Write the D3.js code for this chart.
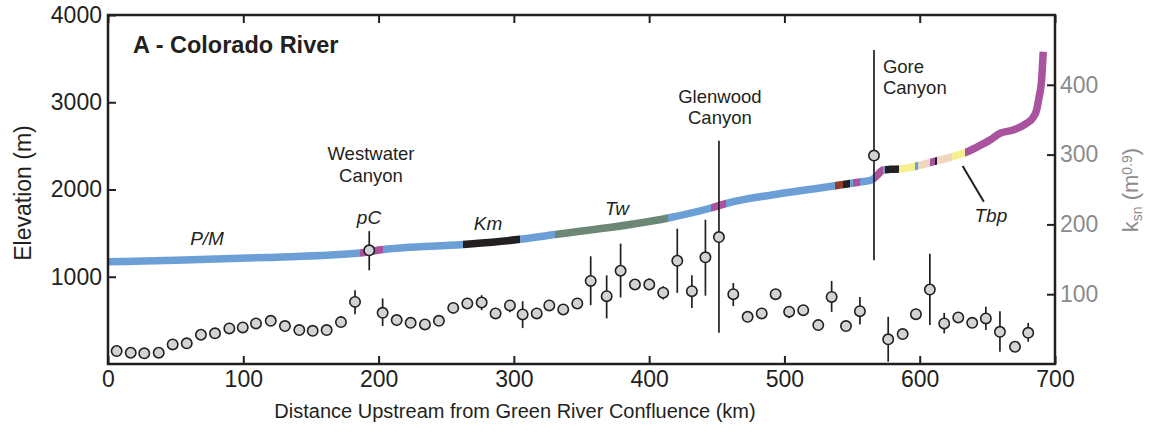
<!DOCTYPE html>
<html>
<head>
<meta charset="utf-8">
<script src="https://cdn.jsdelivr.net/npm/d3@7"></script>
<style>
  body { margin: 0; background: #fff; }
  svg { display: block; font-family: "Liberation Sans", Arial, Helvetica, sans-serif; }
</style>
</head>
<body>
<div id="chart"></div>
<script>
// river long profile (km upstream, elevation m)
const profKm = [0, 50, 117.3, 186.3, 203.5, 262.6, 304.5, 330.4, 414.1, 445.7, 457.3, 491.7, 511.5, 538.6, 555.8, 564.4, 568.1, 573.0, 578.0, 585.4, 597.7, 610.0, 622.3, 632.2, 642.0, 651.9, 659.3, 669.1, 679.0, 683.9, 686.4, 688.3, 690.1, 691.3];
const profElev = [1172, 1190, 1221, 1272, 1312, 1370, 1429, 1484, 1673, 1788, 1842, 1940, 1985, 2046, 2086, 2109, 2155, 2223, 2231, 2235, 2269, 2319, 2367, 2415, 2484, 2567, 2644, 2682, 2759, 2827, 2911, 3064, 3255, 3579];

// rock units along the profile
const unitStart = [0, 186.3, 203.5, 262.6, 304.5, 330.4, 414.1, 445.7, 456.5, 537.3, 543, 548.4, 550.4, 555.8, 565.2, 572.6, 574.3, 584.8, 596.8, 598.7, 607.5, 611.2, 612.5, 623.6, 633.4];
const unitEnd   = [186.3, 203.5, 262.6, 304.5, 330.4, 414.1, 445.7, 456.5, 537.3, 543, 548.4, 550.4, 555.8, 565.2, 572.6, 574.3, 584.8, 596.8, 598.7, 607.5, 611.2, 612.5, 623.6, 633.4, 700];
const unitType  = ["PM", "pC", "PM", "Km", "PM", "Tw", "PM", "pC", "PM", "red", "Km", "PM", "pC", "PM", "pC", "PM", "Km", "Tbp", "PM", "peach", "pC", "Km", "peach", "Tbp", "pC"];
const unitColor = { PM: "#6c9fd5", pC: "#a9539f", Km: "#231f20", Tw: "#6d8777", red: "#8e3b30", Tbp: "#f5ef8f", peach: "#eed6c0" };

// ksn points
const ptKm = [6.4, 16.8, 26.8, 37.5, 47.8, 58.2, 68.7, 79.1, 89.7, 99.6,
  109.4, 120.3, 130.8, 141.4, 151.3, 161.6, 172.2, 182.6, 193.1, 203.0,
  213.4, 223.7, 234.3, 244.6, 255.2, 265.6, 276.2, 286.5, 297.1, 306.5,
  316.9, 326.2, 336.5, 346.9, 356.8, 368.6, 378.9, 389.5, 400.1, 410.4,
  420.8, 431.6, 441.6, 451.6, 462.2, 472.8, 483.2, 493.5, 503.5, 513.9,
  525.0, 534.9, 545.5, 555.8, 566.2, 576.7, 587.4, 597.2, 607.5, 618.1,
  628.5, 638.8, 648.9, 659.3, 670.4, 680.2];
const ptKsn = [18.6, 16.1, 15.3, 16.1, 28.1, 29.6, 41.9, 43.9, 51.0, 52.4,
  58.1, 61.9, 54.3, 48.6, 47.6, 48.6, 60.0, 89.0, 162.9, 73.3,
  62.9, 59.0, 56.7, 61.9, 80.4, 86.7, 88.1, 72.4, 83.9, 71.0,
  72.4, 83.9, 78.1, 86.7, 119.0, 97.1, 133.6, 113.9, 113.9, 102.1,
  147.9, 104.3, 152.9, 181.9, 100.0, 67.6, 72.4, 100.0, 75.0, 77.1,
  55.7, 96.1, 54.3, 75.7, 298.6, 35.3, 42.9, 71.4, 106.7, 58.1,
  66.7, 59.0, 65.3, 46.1, 24.7, 44.7];

// error bars
const errKm = [182.6, 193.1, 203.0, 213.4, 276.2, 297.1, 306.5, 356.8, 368.6, 378.9, 400.1, 410.4, 420.8, 431.6, 441.6, 451.6, 462.2, 503.5, 534.9, 555.8, 566.2, 576.7, 607.5, 618.1, 648.9, 659.3, 680.2];
const errLo = [71.4, 134.3, 54.3, 54.3, 77.1, 74.3, 51.4, 84.3, 65.3, 95.3, 105.7, 92.4, 101.9, 80.4, 97.9, 44.7, 82.9, 65.7, 74.7, 56.7, 148.6, 3.3, 55.7, 43.9, 48.6, 17.6, 31.9];
const errHi = [105.7, 190.4, 93.9, 70.0, 98.6, 91.4, 90.0, 154.3, 127.1, 172.4, 122.9, 111.4, 193.9, 127.1, 206.7, 320.0, 116.1, 81.9, 119.0, 96.1, 450.0, 67.6, 158.1, 73.3, 81.9, 75.7, 58.9];

const xTicks = [0, 100, 200, 300, 400, 500, 600, 700];
const elevTicks = [1000, 2000, 3000, 4000];
const ksnTicks = [100, 200, 300, 400];

const ink = "#231f20";
const grey = "#8a8b8d";

const W = 1155, H = 435;
const margin = { top: 15, right: 100, bottom: 71, left: 108 };
const width = W - margin.left - margin.right;
const height = H - margin.top - margin.bottom;

const svg = d3.select("#chart").append("svg")
  .attr("width", W)
  .attr("height", H);

const g = svg.append("g")
  .attr("transform", `translate(${margin.left},${margin.top})`);

const x = d3.scaleLinear().domain([0, 700]).range([0, width]);
const yE = d3.scaleLinear().domain([0, 4000]).range([height, 0]);
const yK = d3.scaleLinear().domain([0, 500]).range([height, 0]);

// gradient with hard stops for the rock units
const grad = svg.append("defs").append("linearGradient")
  .attr("id", "units")
  .attr("gradientUnits", "userSpaceOnUse")
  .attr("x1", x(0)).attr("x2", x(700))
  .attr("y1", 0).attr("y2", 0);
unitStart.forEach((s, i) => {
  const c = unitColor[unitType[i]];
  grad.append("stop").attr("offset", s / 700).attr("stop-color", c);
  grad.append("stop").attr("offset", unitEnd[i] / 700).attr("stop-color", c);
});

const line = d3.line()
  .x(d => x(d[0]))
  .y(d => yE(d[1]))
  .curve(d3.curveMonotoneX);

g.append("path")
  .datum(profKm.map((k, i) => [k, profElev[i]]))
  .attr("d", line)
  .attr("fill", "none")
  .attr("stroke", "url(#units)")
  .attr("stroke-width", 7.5);

// error bars
g.append("g").selectAll("line")
  .data(errKm)
  .join("line")
  .attr("x1", d => x(d)).attr("x2", d => x(d))
  .attr("y1", (d, i) => yK(errLo[i]))
  .attr("y2", (d, i) => yK(errHi[i]))
  .attr("stroke", ink)
  .attr("stroke-width", 1.7);

// ksn points
g.append("g").selectAll("circle")
  .data(ptKm)
  .join("circle")
  .attr("cx", d => x(d))
  .attr("cy", (d, i) => yK(ptKsn[i]))
  .attr("r", 5.2)
  .attr("fill", "#d1d3d4")
  .attr("stroke", ink)
  .attr("stroke-width", 1.6);

// frame + axes
g.append("rect")
  .attr("width", width).attr("height", height)
  .attr("fill", "none")
  .attr("stroke", ink)
  .attr("stroke-width", 2.5);

function style(sel, color) {
  sel.select(".domain").remove();
  sel.selectAll(".tick line").attr("stroke", ink).attr("stroke-width", 2);
  sel.selectAll(".tick text")
    .attr("fill", color)
    .style("font-size", "23px")
    .style("font-family", "Liberation Sans, Arial, sans-serif");
}

const fmt = d3.format("d");

g.append("g")
  .attr("transform", `translate(0,${height})`)
  .call(d3.axisBottom(x).tickValues(xTicks).tickFormat(fmt).tickSizeInner(-8).tickSizeOuter(0).tickPadding(7))
  .call(s => style(s, ink));

g.append("g")
  .call(d3.axisTop(x).tickValues(xTicks).tickFormat("").tickSizeInner(-8).tickSizeOuter(0))
  .call(s => style(s, ink));

g.append("g")
  .call(d3.axisLeft(yE).tickValues(elevTicks).tickFormat(fmt).tickSizeInner(-8).tickSizeOuter(0).tickPadding(6))
  .call(s => style(s, ink));

g.append("g")
  .attr("transform", `translate(${width},0)`)
  .call(d3.axisRight(yK).tickValues(ksnTicks).tickFormat(fmt).tickSizeInner(-8).tickSizeOuter(0).tickPadding(5))
  .call(s => style(s, grey));

// axis titles
svg.append("text")
  .attr("transform", `translate(31,193) rotate(-90)`)
  .attr("text-anchor", "middle")
  .attr("fill", ink)
  .style("font-size", "23px")
  .text("Elevation (m)");

svg.append("text")
  .attr("x", 515).attr("y", 418)
  .attr("text-anchor", "middle")
  .attr("fill", ink)
  .style("font-size", "20px")
  .text("Distance Upstream from Green River Confluence (km)");

const kt = svg.append("text")
  .attr("transform", `translate(1138,190) rotate(-90)`)
  .attr("text-anchor", "middle")
  .attr("fill", grey)
  .style("font-size", "22px");
kt.append("tspan").text("k");
kt.append("tspan").attr("baseline-shift", "-30%").style("font-size", "14px").text("sn");
kt.append("tspan").text(" (m");
kt.append("tspan").attr("baseline-shift", "45%").style("font-size", "14px").text("0.9");
kt.append("tspan").text(")");

// title
g.append("text")
  .attr("x", 25).attr("y", 38)
  .attr("fill", ink)
  .style("font-size", "23.5px")
  .style("font-weight", "bold")
  .text("A - Colorado River");

// canyon labels
const canyonName = ["Westwater", "Glenwood", "Gore"];
const canyonKm = [194.4, 452.3, 572.8];
const canyonElev = [2338, 2995, 3339];
const canyonAnchor = ["middle", "middle", "start"];
canyonName.forEach((n, i) => {
  const t = g.append("text")
    .attr("x", x(canyonKm[i]))
    .attr("y", yE(canyonElev[i]))
    .attr("text-anchor", canyonAnchor[i])
    .attr("fill", ink)
    .style("font-size", "18.5px");
  t.append("tspan").text(n);
  t.append("tspan").attr("x", x(canyonKm[i])).attr("dy", 21.5).text("Canyon");
});

// unit labels
const unitLabel = ["P/M", "pC", "Km", "Tw", "Tbp"];
const unitLabelKm = [73.2, 192.9, 280.9, 376.2, 652.6];
const unitLabelElev = [1364, 1605, 1536, 1708, 1628];
g.append("g").selectAll("text")
  .data(unitLabel)
  .join("text")
  .attr("x", (d, i) => x(unitLabelKm[i]))
  .attr("y", (d, i) => yE(unitLabelElev[i]))
  .attr("text-anchor", "middle")
  .attr("fill", ink)
  .style("font-size", "19px")
  .style("font-style", "italic")
  .text(d => d);

// Tbp leader
g.append("line")
  .attr("x1", x(631.7)).attr("y1", yE(2269))
  .attr("x2", x(647.4)).attr("y2", yE(1860))
  .attr("stroke", ink)
  .attr("stroke-width", 2);
</script>
</body>
</html>
